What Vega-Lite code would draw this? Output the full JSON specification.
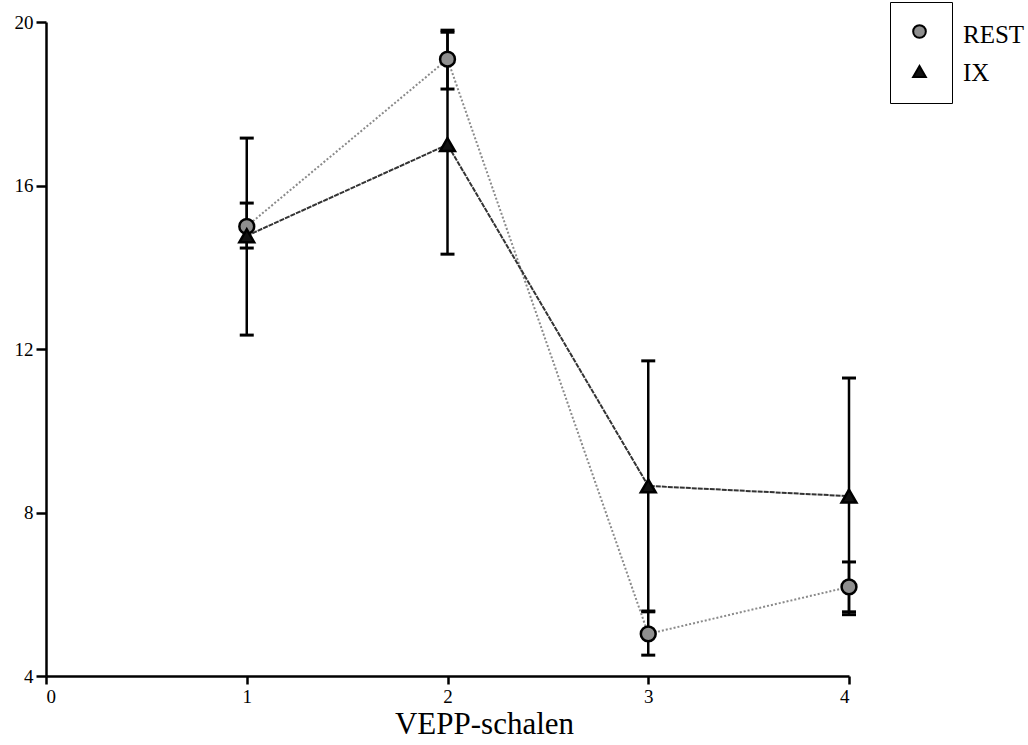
{
  "$schema": "https://vega.github.io/schema/vega-lite/v6.json",
  "width": 803,
  "height": 654,
  "autosize": {"type": "none"},
  "padding": {"left": 46, "top": 22, "right": 179, "bottom": 69},
  "background": "white",
  "config": {
    "font": "Liberation Serif",
    "view": {"stroke": null},
    "axis": {"grid": false, "domainColor": "black", "domainWidth": 2.5, "tickColor": "black", "tickWidth": 2.5, "labelColor": "black", "labelFont": "Liberation Serif", "labelFontSize": 19, "titleFont": "Liberation Serif", "titleColor": "black", "titleFontWeight": "normal"},
    "legend": {"labelFont": "Liberation Serif", "labelFontSize": 25, "labelColor": "black"}
  },
  "data": {
    "values": [
      {"series": "REST", "x": 1, "mean": 15.0, "lo": 14.47, "hi": 15.57},
      {"series": "REST", "x": 2, "mean": 19.09, "lo": 18.36, "hi": 19.8},
      {"series": "REST", "x": 3, "mean": 5.03, "lo": 4.51, "hi": 5.57},
      {"series": "REST", "x": 4, "mean": 6.18, "lo": 5.57, "hi": 6.79},
      {"series": "IX", "x": 1, "mean": 14.77, "lo": 12.34, "hi": 17.16},
      {"series": "IX", "x": 2, "mean": 17.0, "lo": 14.32, "hi": 19.75},
      {"series": "IX", "x": 3, "mean": 8.65, "lo": 5.59, "hi": 11.71},
      {"series": "IX", "x": 4, "mean": 8.4, "lo": 5.5, "hi": 11.29}
    ]
  },
  "encoding": {
    "x": {"field": "x", "type": "quantitative", "scale": {"domain": [0, 4], "nice": false, "zero": false},
      "axis": {"values": [0, 1, 2, 3, 4], "tickSize": 8, "labelPadding": 3, "labelFont": "Liberation Serif", "labelFontSize": 19, "labelColor": "black", "title": "VEPP-schalen", "titleFont": "Liberation Serif", "titleFontSize": 31, "titleFontWeight": "normal", "titleColor": "black", "titlePadding": 3, "titleX": 438, "titleAlign": "center"}}
  },
  "layer": [
    {
      "mark": {"type": "rule", "color": "black", "strokeWidth": 2.5},
      "encoding": {
        "y": {"field": "lo", "type": "quantitative", "scale": {"domain": [4, 20], "nice": false, "zero": false},
          "axis": {"values": [4, 8, 12, 16, 20], "tickSize": 10, "labelPadding": 3, "labelFont": "Liberation Serif", "labelFontSize": 19, "labelColor": "black", "title": null}},
        "y2": {"field": "hi"}
      }
    },
    {
      "mark": {"type": "tick", "orient": "horizontal", "color": "black", "size": 14, "thickness": 3, "opacity": 1},
      "encoding": {"y": {"field": "lo", "type": "quantitative"}}
    },
    {
      "mark": {"type": "tick", "orient": "horizontal", "color": "black", "size": 14, "thickness": 3, "opacity": 1},
      "encoding": {"y": {"field": "hi", "type": "quantitative"}}
    },
    {
      "transform": [{"filter": "datum.series === 'REST'"}],
      "mark": {"type": "line", "strokeWidth": 2, "color": "#8a8a8a", "strokeDash": [2, 2]},
      "encoding": {"y": {"field": "mean", "type": "quantitative"}}
    },
    {
      "transform": [{"filter": "datum.series === 'IX'"}],
      "mark": {"type": "line", "strokeWidth": 2, "color": "#333333", "strokeDash": [5, 1]},
      "encoding": {"y": {"field": "mean", "type": "quantitative"}}
    },
    {
      "mark": {"type": "point", "filled": true, "size": 220, "stroke": "black", "strokeWidth": 2.5},
      "encoding": {
        "y": {"field": "mean", "type": "quantitative"},
        "shape": {"field": "series", "type": "nominal", "scale": {"domain": ["REST", "IX"], "range": ["circle", "triangle-up"]},
          "legend": {"title": null, "orient": "none", "legendX": 844, "legendY": -20, "strokeColor": "black", "padding": 22, "rowPadding": 20, "symbolSize": 160, "symbolOpacity": 1, "symbolStrokeWidth": 2, "symbolStrokeColor": "black", "labelExpr": "''", "labelOffset": 0, "labelFontSize": 1, "fillColor": "white",
            "encode": {"symbols": {"update": {"opacity": {"value": 1}}}}}},
        "fill": {"field": "series", "type": "nominal", "scale": {"domain": ["REST", "IX"], "range": ["#8f8f8f", "#111111"]},
          "legend": {"title": null, "orient": "none", "legendX": 844, "legendY": -20, "strokeColor": "black", "padding": 22, "rowPadding": 20, "symbolSize": 160, "symbolOpacity": 1, "symbolStrokeWidth": 2, "symbolStrokeColor": "black", "labelExpr": "''", "labelOffset": 0, "labelFontSize": 1, "fillColor": "white",
            "encode": {"symbols": {"update": {"opacity": {"value": 1}}}}}},
        "opacity": {"field": "series", "type": "nominal", "scale": {"domain": ["REST", "IX"], "range": [1, 1]},
          "legend": {"title": null, "orient": "right", "offset": 89, "padding": 0, "rowPadding": 12, "symbolSize": 0, "symbolStrokeWidth": 0, "symbolFillColor": "white", "symbolStrokeColor": "white", "symbolOpacity": 0, "labelOffset": 0, "labelFontSize": 25, "labelColor": "black", "labelFont": "Liberation Serif",
            "encode": {"symbols": {"update": {"opacity": {"value": 0}, "fill": {"value": "white"}, "stroke": {"value": "white"}}}}}}
      }
    }
  ]
}
